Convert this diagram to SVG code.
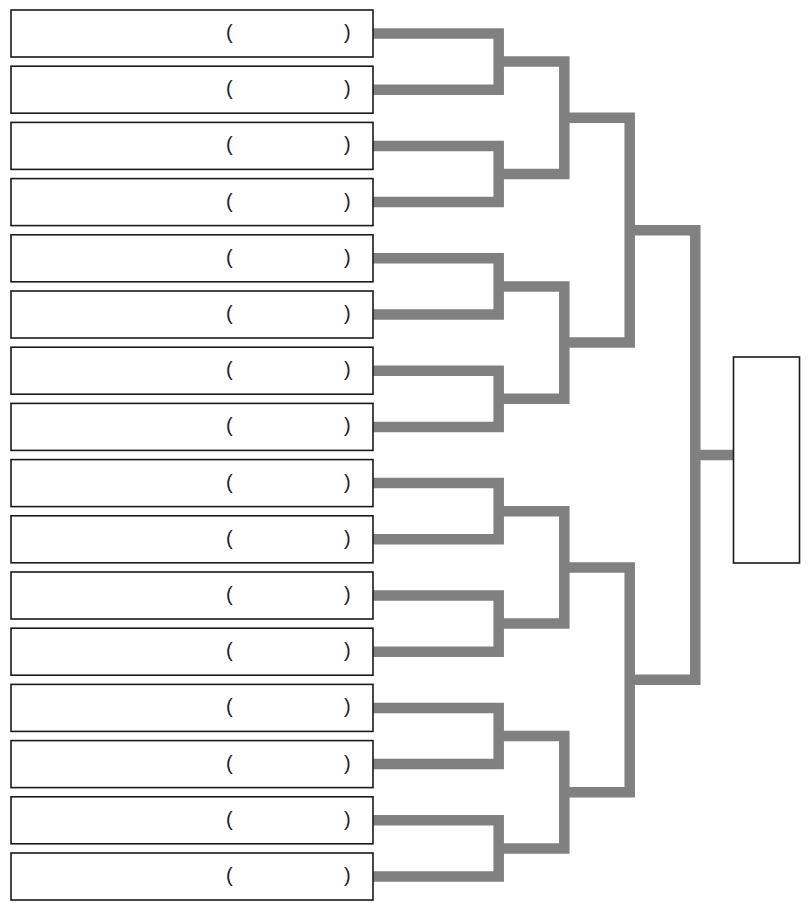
<svg xmlns="http://www.w3.org/2000/svg" width="811" height="911" viewBox="0 0 811 911">
<style>
.box{fill:#fff;stroke:#1a1a1a;stroke-width:1.6}
.par{font-family:"Liberation Sans",Arial,sans-serif;font-size:20px;fill:#222}
.con{fill:none;stroke:#808080;stroke-width:10.5;stroke-linejoin:miter;stroke-linecap:butt}
</style>
<rect width="811" height="911" fill="#fff"/>
<g id="connectors">
<path class="con" d="M373 33.5H498.7V89.7H373"/>
<path class="con" d="M373 145.9H498.7V202.1H373"/>
<path class="con" d="M373 258.3H498.7V314.5H373"/>
<path class="con" d="M373 370.7H498.7V426.9H373"/>
<path class="con" d="M373 483.1H498.7V539.3H373"/>
<path class="con" d="M373 595.5H498.7V651.7H373"/>
<path class="con" d="M373 707.9H498.7V764.1H373"/>
<path class="con" d="M373 820.3H498.7V876.5H373"/>
<path class="con" d="M498.7 61.6H564.3V174H498.7"/>
<path class="con" d="M498.7 286.4H564.3V398.8H498.7"/>
<path class="con" d="M498.7 511.2H564.3V623.6H498.7"/>
<path class="con" d="M498.7 736H564.3V848.4H498.7"/>
<path class="con" d="M564.3 117.8H629.7V342.6H564.3"/>
<path class="con" d="M564.3 567.4H629.7V792.2H564.3"/>
<path class="con" d="M629.7 230.2H695.3V679.8H629.7"/>
<path class="con" d="M695.3 455H734"/>
</g>
<g id="n1"><rect class="box" x="11" y="10" width="362" height="47"/><text class="par" x="226" y="39">(</text><text class="par" x="344" y="39">)</text></g>
<g id="n2"><rect class="box" x="11" y="66.2" width="362" height="47"/><text class="par" x="226" y="95.2">(</text><text class="par" x="344" y="95.2">)</text></g>
<g id="n3"><rect class="box" x="11" y="122.4" width="362" height="47"/><text class="par" x="226" y="151.4">(</text><text class="par" x="344" y="151.4">)</text></g>
<g id="n4"><rect class="box" x="11" y="178.6" width="362" height="47"/><text class="par" x="226" y="207.6">(</text><text class="par" x="344" y="207.6">)</text></g>
<g id="n5"><rect class="box" x="11" y="234.8" width="362" height="47"/><text class="par" x="226" y="263.8">(</text><text class="par" x="344" y="263.8">)</text></g>
<g id="n6"><rect class="box" x="11" y="291" width="362" height="47"/><text class="par" x="226" y="320">(</text><text class="par" x="344" y="320">)</text></g>
<g id="n7"><rect class="box" x="11" y="347.2" width="362" height="47"/><text class="par" x="226" y="376.2">(</text><text class="par" x="344" y="376.2">)</text></g>
<g id="n8"><rect class="box" x="11" y="403.4" width="362" height="47"/><text class="par" x="226" y="432.4">(</text><text class="par" x="344" y="432.4">)</text></g>
<g id="n9"><rect class="box" x="11" y="459.6" width="362" height="47"/><text class="par" x="226" y="488.6">(</text><text class="par" x="344" y="488.6">)</text></g>
<g id="n10"><rect class="box" x="11" y="515.8" width="362" height="47"/><text class="par" x="226" y="544.8">(</text><text class="par" x="344" y="544.8">)</text></g>
<g id="n11"><rect class="box" x="11" y="572" width="362" height="47"/><text class="par" x="226" y="601">(</text><text class="par" x="344" y="601">)</text></g>
<g id="n12"><rect class="box" x="11" y="628.2" width="362" height="47"/><text class="par" x="226" y="657.2">(</text><text class="par" x="344" y="657.2">)</text></g>
<g id="n13"><rect class="box" x="11" y="684.4" width="362" height="47"/><text class="par" x="226" y="713.4">(</text><text class="par" x="344" y="713.4">)</text></g>
<g id="n14"><rect class="box" x="11" y="740.6" width="362" height="47"/><text class="par" x="226" y="769.6">(</text><text class="par" x="344" y="769.6">)</text></g>
<g id="n15"><rect class="box" x="11" y="796.8" width="362" height="47"/><text class="par" x="226" y="825.8">(</text><text class="par" x="344" y="825.8">)</text></g>
<g id="n16"><rect class="box" x="11" y="853" width="362" height="47"/><text class="par" x="226" y="882">(</text><text class="par" x="344" y="882">)</text></g>
<g id="winner"><rect class="box" x="733.5" y="357" width="66" height="206"/></g>
</svg>
